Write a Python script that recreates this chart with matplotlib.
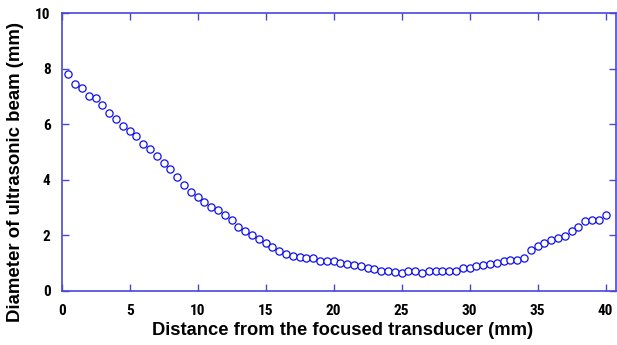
import matplotlib
matplotlib.use("Agg")
import matplotlib.pyplot as plt
from matplotlib import font_manager

distance_mm = [0.5 * i for i in range(1, 81)]
diameter_mm = [
    7.81, 7.44, 7.33, 7.03, 6.96, 6.70, 6.42, 6.18, 5.96, 5.75,
    5.58, 5.30, 5.12, 4.87, 4.61, 4.38, 4.12, 3.80, 3.57, 3.39,
    3.21, 3.03, 2.90, 2.75, 2.57, 2.31, 2.15, 2.01, 1.86, 1.73,
    1.59, 1.44, 1.33, 1.26, 1.23, 1.17, 1.17, 1.08, 1.06, 1.06,
    0.99, 0.95, 0.92, 0.88, 0.84, 0.77, 0.72, 0.70, 0.69, 0.66,
    0.70, 0.70, 0.66, 0.70, 0.70, 0.70, 0.71, 0.73, 0.81, 0.84,
    0.88, 0.92, 0.95, 1.00, 1.06, 1.10, 1.10, 1.20, 1.47, 1.62,
    1.73, 1.82, 1.89, 1.97, 2.14, 2.30, 2.50, 2.57, 2.57, 2.75,
]
x_ticks = [0, 5, 10, 15, 20, 25, 30, 35, 40]
y_ticks = [0, 2, 4, 6, 8, 10]

# pick a condensed font for the tick labels if one is installed
fonts = font_manager.fontManager.ttflist
names = {f.name for f in fonts}
tick_family, tick_stretch = "Liberation Sans", "normal"
for cand in ["Liberation Sans Narrow", "Arial Narrow", "Roboto Condensed",
             "Open Sans Condensed", "DejaVu Sans Condensed"]:
    if cand in names:
        tick_family = cand
        break
else:
    for f in fonts:
        if f.name == "DejaVu Sans" and str(f.stretch) in ("condensed", "semi-condensed", "500"):
            if "Condensed" in f.fname:
                tick_family, tick_stretch = "DejaVu Sans", "condensed"
                break

fig = plt.figure(figsize=(6.17, 3.45), dpi=100)
ax = fig.add_axes([0.100, 0.157, 0.899, 0.804])
spine_c = "#4848d8"
ax.plot(distance_mm, diameter_mm, linestyle="none", marker="o", markersize=5.2,
        markerfacecolor="white", markeredgecolor="#1010e8", markeredgewidth=0.9)
ax.set_xlim(0, 40.8)
ax.set_ylim(0, 10)
ax.set_xticks(x_ticks)
ax.set_yticks(y_ticks)
for s in ax.spines.values():
    s.set_color(spine_c)
    s.set_linewidth(1.2)
ax.tick_params(direction="in", length=5, width=1, color=spine_c,
               top=True, right=True, labelsize=11)
ax.tick_params(axis="x", pad=9.5)
ax.tick_params(axis="y", pad=8)
for lab in ax.get_xticklabels() + ax.get_yticklabels():
    lab.set_fontfamily(tick_family)
    lab.set_fontstretch(tick_stretch)
    lab.set_fontweight("bold")

ax.set_xlabel("Distance from the focused transducer (mm)", fontsize=13.2,
              fontweight="bold", family="Liberation Sans")
ax.xaxis.label.set(va="center", ha="center")
ax.xaxis.set_label_coords(0.556, 0.042, transform=fig.transFigure)

ax.set_ylabel("Diameter of ultrasonic beam (mm)", fontsize=13.4,
              fontweight="bold", family="Liberation Sans")
ax.yaxis.label.set(va="center", ha="center", rotation_mode="default")
ax.yaxis.set_label_coords(0.025, 0.50, transform=fig.transFigure)

fig.savefig("out.png", dpi=100)
